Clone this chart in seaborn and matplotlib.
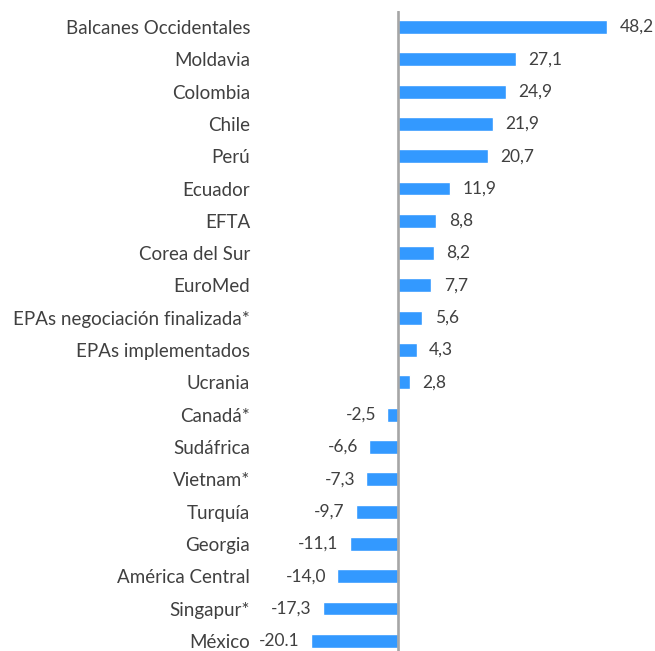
import matplotlib
matplotlib.use("Agg")
import matplotlib.pyplot as plt
import seaborn as sns
import pandas as pd

categories = ["Balcanes Occidentales", "Moldavia", "Colombia", "Chile", "Perú", "Ecuador",
              "EFTA", "Corea del Sur", "EuroMed", "EPAs negociación finalizada*",
              "EPAs implementados", "Ucrania", "Canadá*", "Sudáfrica", "Vietnam*",
              "Turquía", "Georgia", "América Central", "Singapur*", "México"]
values = [48.2, 27.1, 24.9, 21.9, 20.7, 11.9, 8.8, 8.2, 7.7, 5.6, 4.3, 2.8,
          -2.5, -6.6, -7.3, -9.7, -11.1, -14.0, -17.3, -20.1]
value_labels = ["48,2", "27,1", "24,9", "21,9", "20,7", "11,9", "8,8", "8,2", "7,7", "5,6",
                "4,3", "2,8", "-2,5", "-6,6", "-7,3", "-9,7", "-11,1", "-14,0", "-17,3", "-20.1"]

df = pd.DataFrame({"cat": categories, "val": values})

sns.set_theme(style="white")
plt.rcParams["font.family"] = ["Lato", "DejaVu Sans"]

W, H = 655, 651
fig = plt.figure(figsize=(W / 100, H / 100), dpi=100)
left_px, right_px, top_px, bot_px = 262, 652, 10.8, 657
ax = fig.add_axes([left_px / W, 1 - bot_px / H, (right_px - left_px) / W, (bot_px - top_px) / H])

sns.barplot(data=df, y="cat", x="val", orient="h", color="#3399FF", saturation=1,
            width=0.43, ax=ax)

scale = 4.34  # px per unit
ax.set_xlim(-(398 - left_px) / scale, (right_px - 398) / scale)
ax.set_ylim(len(categories) - 0.5, -0.5)

for s in ax.spines.values():
    s.set_visible(False)
ax.axvline(0, color="#A6A6A6", linewidth=1.9, zorder=3)

ax.set_xticks([])
ax.set_xlabel("")
ax.set_ylabel("")
ax.tick_params(axis="y", length=0, pad=8.5, labelsize=13.5, labelcolor="#404040")

for i, (v, lab) in enumerate(zip(values, value_labels)):
    if v >= 0:
        ax.annotate(lab, (v, i), xytext=(9, 0), textcoords="offset points",
                    ha="left", va="center", fontsize=12.5, color="#404040")
    else:
        ax.annotate(lab, (v, i), xytext=(-8, 0), textcoords="offset points",
                    ha="right", va="center", fontsize=12.5, color="#404040")

fig.savefig("out.png", dpi=100)
